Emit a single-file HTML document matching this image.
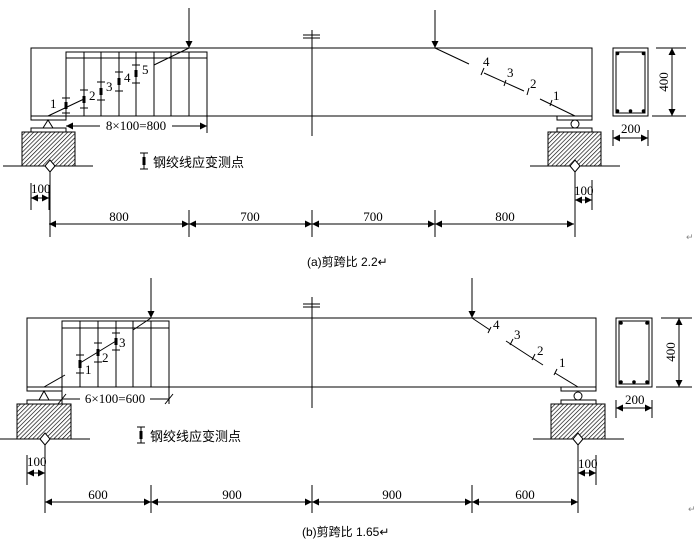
<!DOCTYPE html>
<html><head><meta charset="utf-8"><style>
html,body{margin:0;padding:0;background:#fff;}
svg{display:block;}
text{font-family:"Liberation Serif","Noto Serif CJK SC",serif;font-size:13px;fill:#000;}
.cn{font-family:"Liberation Sans","Noto Sans CJK SC",sans-serif;font-size:13px;}
</style></head><body>
<svg width="697" height="549" viewBox="0 0 697 549" xmlns="http://www.w3.org/2000/svg">
<defs>
<pattern id="h" width="3" height="3" patternUnits="userSpaceOnUse" patternTransform="rotate(45)">
<rect width="3" height="3" fill="#fff"/><line x1="0" y1="0" x2="0" y2="3" stroke="#000" stroke-width="1.3"/></pattern>
<marker id="a" viewBox="0 0 10 10" refX="10" refY="5" markerWidth="9" markerHeight="7" orient="auto-start-reverse" markerUnits="userSpaceOnUse"><path d="M0,0L10,5L0,10z" fill="#000"/></marker>
</defs>
<g stroke="#000" stroke-width="1" fill="none">
<!-- ===== (a) ===== -->
<rect x="31" y="48" width="561" height="68"/>
<rect x="31" y="116" width="35" height="4"/>
<rect x="66" y="52" width="141" height="64"/>
<line x1="66" y1="58" x2="207" y2="58"/>
<path d="M84,52V116M101,52V116M119,52V116M136,52V116M154,52V116M171,52V116M189,52V116"/>
<line x1="189" y1="8" x2="189" y2="48" marker-end="url(#a)"/>
<line x1="435" y1="10" x2="435" y2="48" marker-end="url(#a)"/>
<path d="M48,116L84,99M154,65L189,48"/>
<path d="M312,30V136M303,35H320M303,38H320"/>
<path d="M66,98V113M62,98H70M62,113H70M84,90V108M80,90H88M80,108H88M101,82V100M97,82H105M97,100H105M119,72V91M115,72H123M115,91H123M136,65V83M132,65H140M132,83H140"/>
<path d="M66,102V109M84,96V103M101,88V95M119,78V85M136,70V77" stroke-width="3"/>
<path d="M48,120L43,128H53Z"/>
<rect x="31" y="128" width="35" height="4"/>
<path d="M22,132H75V166H55L50,160L45,166H22Z" fill="url(#h)"/>
<path d="M3,166H45M55,166H93M45,166L50,172L55,166M50,172V237"/>
<path d="M144,153V169M140,153H148M140,169H148"/><path d="M144,157V165" stroke-width="3"/>
<path d="M31,183V210M49,185V210"/>
<line x1="31" y1="198" x2="49" y2="198" marker-start="url(#a)" marker-end="url(#a)"/>
<path d="M189,210V237M312,210V237M435,210V237"/>
<line x1="49" y1="224" x2="189" y2="224" marker-start="url(#a)" marker-end="url(#a)"/>
<line x1="189" y1="224" x2="312" y2="224" marker-start="url(#a)" marker-end="url(#a)"/>
<line x1="312" y1="224" x2="435" y2="224" marker-start="url(#a)" marker-end="url(#a)"/>
<line x1="435" y1="224" x2="574" y2="224" marker-start="url(#a)" marker-end="url(#a)"/>
<line x1="66" y1="126" x2="100" y2="126" marker-start="url(#a)"/>
<line x1="172" y1="126" x2="207" y2="126" marker-end="url(#a)"/>
<path d="M207,116V133"/>
<rect x="557" y="116" width="35" height="4"/>
<circle cx="575" cy="124" r="4"/>
<rect x="557" y="128" width="35" height="4"/>
<path d="M548,132H601V166H580L575,160L570,166H548Z" fill="url(#h)"/>
<path d="M530,166H570M580,166H620M570,166L575,172L580,166M575,172V237"/>
<path d="M592,180V210"/>
<line x1="575" y1="200" x2="592" y2="200" marker-start="url(#a)" marker-end="url(#a)"/>
<path d="M435,48L469,64M484,73L524,91M540,99L575,116M481,75L484,68M504,86L506,80M527,95L529,88M550,106L552,100"/>
<rect x="613" y="48" width="35" height="68"/>
<rect x="616" y="52" width="29" height="61"/>
<path d="M656,48H686M652,116H686M613,130V146M648,130V146"/>
<line x1="672" y1="48" x2="672" y2="116" marker-start="url(#a)" marker-end="url(#a)"/>
<line x1="613" y1="138" x2="648" y2="138" marker-start="url(#a)" marker-end="url(#a)"/>

<!-- ===== (b) ===== -->
<rect x="27" y="318" width="569" height="69"/>
<rect x="27" y="387" width="35" height="4"/>
<rect x="62" y="321" width="107" height="66"/>
<line x1="62" y1="328" x2="169" y2="328"/>
<path d="M80,321V387M98,321V387M116,321V387M133,321V387M151,321V387"/>
<line x1="151" y1="278" x2="151" y2="318" marker-end="url(#a)"/>
<line x1="472" y1="278" x2="472" y2="318" marker-end="url(#a)"/>
<path d="M44,387L65,375M80,363L116,341M133,330L151,318"/>
<path d="M312,297V408M303,304H320M303,307H320"/>
<path d="M80,355V373M76,355H84M76,373H84M98,343V362M94,343H102M94,362H102M116,333V350M112,333H120M112,350H120"/>
<path d="M80,360V368M98,349V356M116,338V345" stroke-width="3"/>
<path d="M44,391L39,400H49Z"/>
<rect x="27" y="400" width="35" height="4"/>
<path d="M17,404H71V439H50L45,433L40,439H17Z" fill="url(#h)"/>
<path d="M0,439H40M50,439H90M40,439L45,445L50,439M45,445V513"/>
<path d="M141,427V443M137,427H145M137,443H145"/><path d="M141,431V439" stroke-width="3"/>
<path d="M27,455V485"/>
<line x1="27" y1="473" x2="45" y2="473" marker-start="url(#a)" marker-end="url(#a)"/>
<path d="M151,485V513M312,485V513M472,485V513"/>
<line x1="45" y1="502" x2="151" y2="502" marker-start="url(#a)" marker-end="url(#a)"/>
<line x1="151" y1="502" x2="312" y2="502" marker-start="url(#a)" marker-end="url(#a)"/>
<line x1="312" y1="502" x2="472" y2="502" marker-start="url(#a)" marker-end="url(#a)"/>
<line x1="472" y1="502" x2="578" y2="502" marker-start="url(#a)" marker-end="url(#a)"/>
<path d="M62,399H80M150,399H169M58,404L66,394M165,404L173,394M62,387V404M169,387V404"/>
<rect x="561" y="387" width="35" height="4"/>
<circle cx="578" cy="396" r="4"/>
<rect x="561" y="400" width="35" height="4"/>
<path d="M551,404H605V439H583L578,433L573,439H551Z" fill="url(#h)"/>
<path d="M533,439H573M583,439H624M573,439L578,445L583,439M578,445V513"/>
<path d="M596,455V485"/>
<line x1="578" y1="473" x2="596" y2="473" marker-start="url(#a)" marker-end="url(#a)"/>
<path d="M472,318L490,330M506,341L543,365M555,373L578,387M488,333L491,327M510,345L513,339M532,360L535,354M554,375L557,369"/>
<rect x="616" y="318" width="36" height="69"/>
<rect x="619" y="321" width="30" height="63"/>
<path d="M661,318H692M656,387H692M616,400V418M652,400V418"/>
<line x1="679" y1="318" x2="679" y2="387" marker-start="url(#a)" marker-end="url(#a)"/>
<line x1="616" y1="408" x2="652" y2="408" marker-start="url(#a)" marker-end="url(#a)"/>
</g>
<g fill="#000">
<circle cx="617.5" cy="53.5" r="1.8"/><circle cx="643.5" cy="53.5" r="1.8"/><circle cx="617.5" cy="111" r="1.8"/><circle cx="630.5" cy="111" r="1.8"/><circle cx="643.5" cy="111" r="1.8"/>
<circle cx="621" cy="323" r="1.8"/><circle cx="647" cy="323" r="1.8"/><circle cx="621" cy="382" r="1.8"/><circle cx="634" cy="382" r="1.8"/><circle cx="647" cy="382" r="1.8"/>
</g>
<text x="50" y="108">1</text><text x="89" y="100">2</text><text x="106" y="91">3</text><text x="124" y="82">4</text><text x="142" y="74">5</text>
<text x="136" y="130" text-anchor="middle">8×100=800</text>
<text class="cn" x="153" y="167">钢绞线应变测点</text>
<text x="31" y="193">100</text>
<text x="119" y="221" text-anchor="middle">800</text><text x="250" y="221" text-anchor="middle">700</text>
<text x="373" y="221" text-anchor="middle">700</text><text x="505" y="221" text-anchor="middle">800</text>
<text x="574" y="195">100</text>
<text x="483" y="66">4</text><text x="507" y="77">3</text><text x="530" y="88">2</text><text x="553" y="100">1</text>
<text x="621" y="133">200</text>
<text x="0" y="0" transform="translate(668,82) rotate(-90)" text-anchor="middle">400</text>
<text class="cn" x="307" y="266" style="font-size:12px">(a)剪跨比 2.2↵</text>
<text x="686" y="240" style="font-size:9px;fill:#888">↵</text>
<text x="85" y="374">1</text><text x="102" y="362">2</text><text x="119" y="347">3</text>
<text x="115" y="403" text-anchor="middle">6×100=600</text>
<text class="cn" x="150" y="441">钢绞线应变测点</text>
<text x="27" y="466">100</text>
<text x="98" y="499" text-anchor="middle">600</text><text x="232" y="499" text-anchor="middle">900</text>
<text x="392" y="499" text-anchor="middle">900</text><text x="525" y="499" text-anchor="middle">600</text>
<text x="578" y="468">100</text>
<text x="493" y="329">4</text><text x="514" y="339">3</text><text x="537" y="355">2</text><text x="559" y="367">1</text>
<text x="625" y="404">200</text>
<text x="0" y="0" transform="translate(675,352) rotate(-90)" text-anchor="middle">400</text>
<text class="cn" x="302" y="536" style="font-size:12px">(b)剪跨比 1.65↵</text>
<text x="688" y="512" style="font-size:9px;fill:#888">↵</text>
</svg>
</body></html>
